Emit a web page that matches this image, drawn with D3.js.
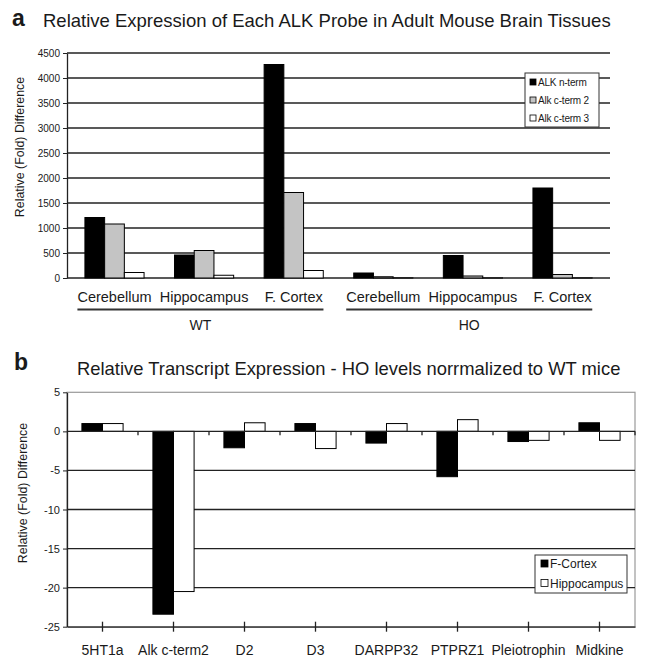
<!DOCTYPE html>
<html>
<head>
<meta charset="utf-8">
<script src="https://cdn.jsdelivr.net/npm/d3@7"></script>
<style>
body { margin: 0; background: #fff; }
text { font-family: "Liberation Sans", Arial, sans-serif; fill: #1a1a1a; }
</style>
</head>
<body>
<div id="chart"></div>
<script>
// panel a data
var tissues = ["Cerebellum", "Hippocampus", "F. Cortex", "Cerebellum", "Hippocampus", "F. Cortex"];
var genotypes = ["WT", "HO"];
var probes = ["ALK n-term", "Alk c-term 2", "Alk c-term 3"];
var alkNterm = [1210, 460, 4270, 100, 450, 1800];
var alkCterm2 = [1080, 550, 1710, 25, 40, 70];
var alkCterm3 = [110, 55, 150, 4, 3, 4];
var yTicksA = [0, 500, 1000, 1500, 2000, 2500, 3000, 3500, 4000, 4500];

// panel b data
var genes = ["5HT1a", "Alk c-term2", "D2", "D3", "DARPP32", "PTPRZ1", "Pleiotrophin", "Midkine"];
var regions = ["F-Cortex", "Hippocampus"];
var fCortex = [1, -23.4, -2.1, 1, -1.5, -5.8, -1.3, 1.1];
var hippocampus = [1, -20.5, 1.1, -2.2, 1, 1.5, -1.15, -1.15];
var yTicksB = [5, 0, -5, -10, -15, -20, -25];

var W = 645, H = 658;
var probeFill = ["#000", "#c4c4c4", "#fff"];
var regionFill = ["#000", "#fff"];

var svg = d3.select("#chart")
    .append("svg")
    .attr("width", W)
    .attr("height", H);

// ---------- panel a ----------
var seriesA = [alkNterm, alkCterm2, alkCterm3];
var left = 67, rightA = 610, topA = 53, bottomA = 278;

var xA = d3.scaleBand()
    .domain(d3.range(tissues.length))
    .range([left, rightA])
    .paddingInner(0.34)
    .paddingOuter(0.2);

var xAin = d3.scaleBand()
    .domain(d3.range(probes.length))
    .range([0, xA.bandwidth()]);

var yA = d3.scaleLinear()
    .domain([0, 4500])
    .range([bottomA, topA]);

svg.append("text")
    .attr("x", 12)
    .attr("y", 26)
    .attr("font-size", 23)
    .attr("font-weight", "bold")
    .text("a");

svg.append("text")
    .attr("x", 43)
    .attr("y", 27)
    .attr("font-size", 18.5)
    .text("Relative Expression of Each ALK Probe in Adult Mouse Brain Tissues");

svg.append("g")
    .selectAll("line")
    .data(yTicksA)
    .enter()
    .append("line")
    .attr("x1", left)
    .attr("x2", rightA)
    .attr("y1", function(d) { return yA(d); })
    .attr("y2", function(d) { return yA(d); })
    .attr("stroke", "#222")
    .attr("stroke-width", 1.3);

var axisA = svg.append("g")
    .attr("transform", "translate(" + left + ",0)")
    .call(d3.axisLeft(yA).tickValues(yTicksA).tickSize(4).tickSizeOuter(0).tickFormat(function(d) { return String(d); }));
axisA.select(".domain").attr("stroke", "#222").attr("stroke-width", 1.3);
axisA.selectAll(".tick line").attr("stroke", "#222");
axisA.selectAll(".tick text")
    .attr("font-size", 10)
    .attr("font-family", "Liberation Sans, Arial, sans-serif")
    .attr("fill", "#1a1a1a")
    .attr("x", -7);

seriesA.forEach(function(vals, s) {
    svg.append("g")
        .selectAll("rect")
        .data(vals)
        .enter()
        .append("rect")
        .attr("x", function(d, i) { return xA(i) + xAin(s); })
        .attr("width", xAin.bandwidth())
        .attr("y", function(d) { return yA(d); })
        .attr("height", function(d) { return bottomA - yA(d); })
        .attr("fill", probeFill[s])
        .attr("stroke", "#000")
        .attr("stroke-width", 1);
});

svg.append("text")
    .attr("transform", "translate(23.5,147) rotate(-90)")
    .attr("text-anchor", "middle")
    .attr("font-size", 12.4)
    .text("Relative (Fold) Difference");

var catLabels = svg.append("g")
    .selectAll("text")
    .data(tissues)
    .enter()
    .append("text")
    .attr("x", function(d, i) { return xA(i) + xA.bandwidth() / 2; })
    .attr("y", 302)
    .attr("text-anchor", "middle")
    .attr("font-size", 14.5)
    .text(function(d) { return d; });

var labelNodes = catLabels.nodes();
genotypes.forEach(function(g, k) {
    var b1 = labelNodes[k * 3].getBBox();
    var b2 = labelNodes[k * 3 + 2].getBBox();
    var x0 = b1.x, x1 = b2.x + b2.width;
    svg.append("line")
        .attr("x1", x0)
        .attr("x2", x1)
        .attr("y1", 309.5)
        .attr("y2", 309.5)
        .attr("stroke", "#333")
        .attr("stroke-width", 2);
    svg.append("text")
        .attr("x", (x0 + x1) / 2)
        .attr("y", 330)
        .attr("text-anchor", "middle")
        .attr("font-size", 14)
        .text(g);
});

var legA = svg.append("g").attr("transform", "translate(525,73)");
legA.append("rect")
    .attr("width", 74)
    .attr("height", 54)
    .attr("fill", "#fff")
    .attr("stroke", "#333")
    .attr("stroke-width", 1);
probes.forEach(function(p, s) {
    var yy = 13 + s * 18;
    legA.append("rect")
        .attr("x", 5)
        .attr("y", yy - 7)
        .attr("width", 6)
        .attr("height", 6)
        .attr("fill", probeFill[s])
        .attr("stroke", "#000")
        .attr("stroke-width", 0.8);
    legA.append("text")
        .attr("x", 13)
        .attr("y", yy)
        .attr("font-size", 10)
        .attr("letter-spacing", -0.2)
        .text(p);
});

// ---------- panel b ----------
var seriesB = [fCortex, hippocampus];
var rightB = 635;

var xB = d3.scaleBand()
    .domain(genes)
    .range([left, rightB])
    .paddingInner(0.42)
    .paddingOuter(0.21);

var xBin = d3.scaleBand()
    .domain(d3.range(regions.length))
    .range([0, xB.bandwidth()]);

var yB = d3.scaleLinear()
    .domain([-25, 5])
    .range([626.7, 392.3]);

svg.append("text")
    .attr("x", 14)
    .attr("y", 370)
    .attr("font-size", 23)
    .attr("font-weight", "bold")
    .text("b");

svg.append("text")
    .attr("x", 77)
    .attr("y", 375)
    .attr("font-size", 18.4)
    .text("Relative Transcript Expression - HO levels norrmalized to WT mice");

svg.append("rect")
    .attr("x", left)
    .attr("y", yB(5))
    .attr("width", rightB - left)
    .attr("height", yB(-25) - yB(5))
    .attr("fill", "none")
    .attr("stroke", "#999")
    .attr("stroke-width", 1.2);

svg.append("g")
    .selectAll("line")
    .data([-5, -10, -15, -20])
    .enter()
    .append("line")
    .attr("x1", left)
    .attr("x2", rightB)
    .attr("y1", function(d) { return yB(d); })
    .attr("y2", function(d) { return yB(d); })
    .attr("stroke", "#222")
    .attr("stroke-width", 1.3);

seriesB.forEach(function(vals, s) {
    svg.append("g")
        .selectAll("rect")
        .data(vals)
        .enter()
        .append("rect")
        .attr("x", function(d, i) { return xB(genes[i]) + xBin(s); })
        .attr("width", xBin.bandwidth())
        .attr("y", function(d) { return yB(Math.max(0, d)); })
        .attr("height", function(d) { return Math.abs(yB(d) - yB(0)); })
        .attr("fill", regionFill[s])
        .attr("stroke", "#000")
        .attr("stroke-width", 1);
});

// zero line with ticks between categories
svg.append("line")
    .attr("x1", left)
    .attr("x2", rightB)
    .attr("y1", yB(0))
    .attr("y2", yB(0))
    .attr("stroke", "#222")
    .attr("stroke-width", 1.3);
svg.append("g")
    .selectAll("line")
    .data(d3.range(1, genes.length + 1))
    .enter()
    .append("line")
    .attr("x1", function(k) { return left + xB.step() * k; })
    .attr("x2", function(k) { return left + xB.step() * k; })
    .attr("y1", yB(0))
    .attr("y2", yB(0) + 4)
    .attr("stroke", "#222")
    .attr("stroke-width", 1.3);

var axisBy = svg.append("g")
    .attr("transform", "translate(" + left + ",0)")
    .call(d3.axisLeft(yB).tickValues(yTicksB).tickSize(4).tickSizeOuter(0).tickFormat(function(d) { return String(d); }));
axisBy.select(".domain").attr("stroke", "#222").attr("stroke-width", 1.3);
axisBy.selectAll(".tick line").attr("stroke", "#222");
axisBy.selectAll(".tick text")
    .attr("font-size", 11)
    .attr("font-family", "Liberation Sans, Arial, sans-serif")
    .attr("fill", "#1a1a1a")
    .attr("x", -7);

var axisBx = svg.append("g")
    .attr("transform", "translate(0," + yB(-25) + ")")
    .call(d3.axisBottom(xB).tickSize(5).tickSizeOuter(0));
axisBx.select(".domain").attr("stroke", "#222").attr("stroke-width", 1.3);
axisBx.selectAll(".tick line")
    .attr("y1", -5)
    .attr("y2", 5)
    .attr("stroke", "#222")
    .attr("stroke-width", 1.3);
axisBx.selectAll(".tick text")
    .attr("font-size", 14)
    .attr("font-family", "Liberation Sans, Arial, sans-serif")
    .attr("fill", "#1a1a1a")
    .attr("y", 28)
    .attr("dy", 0);

svg.append("text")
    .attr("transform", "translate(27,493) rotate(-90)")
    .attr("text-anchor", "middle")
    .attr("font-size", 12.4)
    .text("Relative (Fold) Difference");

var legB = svg.append("g").attr("transform", "translate(535,555)");
legB.append("rect")
    .attr("width", 92)
    .attr("height", 38)
    .attr("fill", "#fff")
    .attr("stroke", "#333")
    .attr("stroke-width", 1);
regions.forEach(function(r, s) {
    var yy = 13 + s * 19.5;
    legB.append("rect")
        .attr("x", 6)
        .attr("y", yy - 8)
        .attr("width", 7)
        .attr("height", 7)
        .attr("fill", regionFill[s])
        .attr("stroke", "#000")
        .attr("stroke-width", 0.8);
    legB.append("text")
        .attr("x", 15)
        .attr("y", yy)
        .attr("font-size", 12)
        .text(r);
});
</script>
</body>
</html>
